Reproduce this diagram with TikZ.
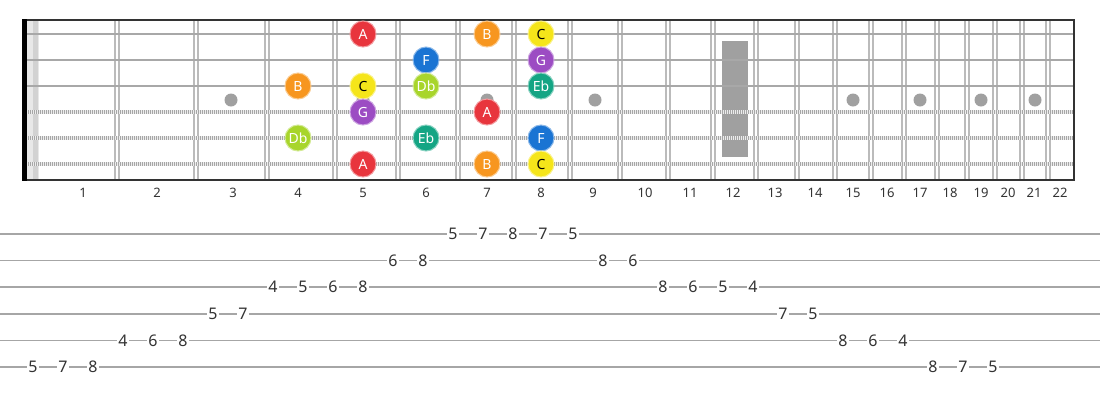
\documentclass[tikz,border=0pt]{standalone}
\usepackage{fontspec}
\setmainfont{Noto Sans}
\usepackage{tikz}
\definecolor{colA}{HTML}{E8353D}
\definecolor{colB}{HTML}{F7961F}
\definecolor{colC}{HTML}{F5E51A}
\definecolor{colDb}{HTML}{A8D52B}
\definecolor{colEb}{HTML}{14A584}
\definecolor{colF}{HTML}{1A74D3}
\definecolor{colG}{HTML}{9C4CC3}
\definecolor{wire}{HTML}{BBBBBB}
\definecolor{strg}{HTML}{A8A8A8}
\definecolor{inlay}{HTML}{A0A0A0}
\definecolor{ink}{HTML}{333333}
\tikzset{
	frame/.style = {draw=ink, line width=1.6pt},
	fret/.style = {draw=wire, line width=1.3pt},
	plain/.style = {draw=strg, line width=2.6pt},
	wound/.style = {draw=gray!70, line width=3.4pt},
	windings/.style = {draw=white!85!gray, line width=3.4pt, dash pattern=on 0.9pt off 1.1pt},
	fnum/.style = {font=\fontsize{13}{13}\selectfont, text=ink},
	dot/.style = {circle, fill=inlay, minimum size=13pt, inner sep=0pt},
	note/.style = {circle, inner sep=0pt, minimum size=26pt, line width=1pt,
		font=\fontsize{14}{14}\selectfont, text=white},
	noteA/.style = {note, fill=colA, draw=colA!50!white},
	noteB/.style = {note, fill=colB, draw=colB!50!white},
	noteC/.style = {note, fill=colC, draw=colC!50!white, text=black},
	noteDb/.style = {note, fill=colDb, draw=colDb!50!white},
	noteEb/.style = {note, fill=colEb, draw=colEb!50!white},
	noteF/.style = {note, fill=colF, draw=colF!50!white},
	noteG/.style = {note, fill=colG, draw=colG!50!white},
	tabline/.style = {draw=gray!70, line width=1.6pt},
	tabnum/.style = {fill=white, inner sep=1.5pt, text=ink,
		font=\fontsize{16}{16}\selectfont}
}
\begin{document}
\begin{tikzpicture}[x=1pt, y=-1pt]
\useasboundingbox (0,0) rectangle (1100,400);
\fill[white] (0,0) rectangle (1100,400);
% fretboard
\fill[gray!18] (27,20) rectangle (39,180);
\fill[gray!35] (33,20) rectangle (38,180);
\foreach \x in {117,196,267,335,398,458,514,570,620,668,713,756,797,835,871,904,937,967,995,1022,1048}{
	\draw[fret] (\x-2,20) -- (\x-2,180);
	\draw[fret] (\x+2,20) -- (\x+2,180);
}
\fill[inlay] (722,41) rectangle (748,157);
\foreach \x in {231,363,487,595,853,920,981,1035}
	\node[dot] (dot\x) at (\x,100) {};
\foreach \s in {1,2,3}
	\draw[plain] (27,8+26*\s) -- (1074,8+26*\s);
\foreach \s in {4,5,6}{
	\draw[wound] (27,8+26*\s) -- (1074,8+26*\s);
	\draw[windings] (27,8+26*\s) -- (1074,8+26*\s);
}
\draw[frame] (23,20) -- (1074,20) -- (1074,180) -- (23,180);
\fill[black] (22,19.2) rectangle (27,180.8);
% fret numbers
\foreach \x [count=\f] in {83,157,233,298,363,426,487,541,593,645,690,733,775,815,853,887,920,950,981,1008,1034,1060}
	\node[fnum] (fnum\f) at (\x,193) {\f};
% notes
\foreach \s/\f/\n in {1/5/A, 1/7/B, 1/8/C, 2/6/F, 2/8/G, 3/4/B, 3/5/C, 3/6/Db, 3/8/Eb,
	4/5/G, 4/7/A, 5/4/Db, 5/6/Eb, 5/8/F, 6/5/A, 6/7/B, 6/8/C}{
	\pgfmathsetmacro\fx{{83,157,233,298,363,426,487,541,593}[\f-1]}
	\node[note\n] (n\s-\f) at (\fx,8+26*\s) {\n};
}
% tab
\foreach \s in {1,...,6}
	\draw[tabline] (0,207.4+26.6*\s) -- (1100,207.4+26.6*\s);
\foreach \n/\s [count=\i from 0] in {5/6,7/6,8/6,4/5,6/5,8/5,5/4,7/4,4/3,5/3,6/3,8/3,6/2,8/2,
	5/1,7/1,8/1,7/1,5/1,8/2,6/2,8/3,6/3,5/3,4/3,7/4,5/4,8/5,6/5,4/5,8/6,7/6,5/6}
	\node[tabnum] (tab\i) at (33+30*\i,207.4+26.6*\s) {\n};
\end{tikzpicture}
\end{document}
